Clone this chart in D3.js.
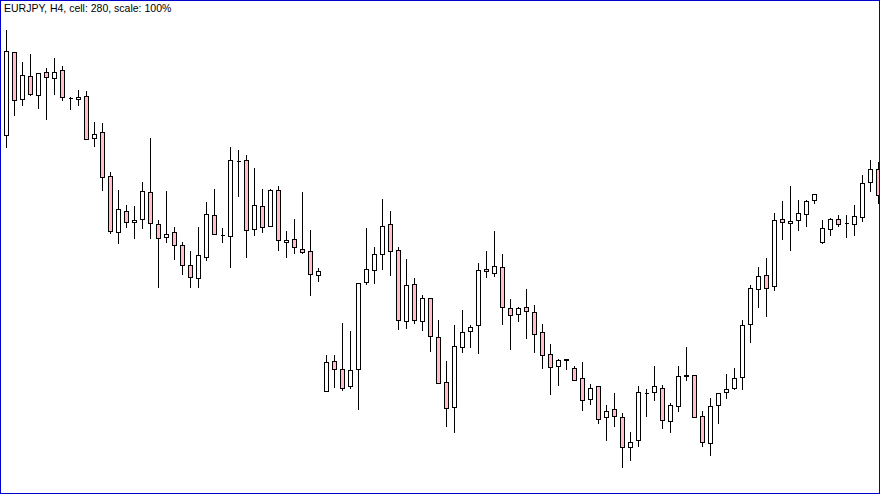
<!DOCTYPE html>
<html>
<head>
<meta charset="utf-8">
<script src="https://cdn.jsdelivr.net/npm/d3@7/dist/d3.min.js"></script>
<style>
html,body{margin:0;padding:0;background:#fff;}
svg{display:block;}
</style>
</head>
<body>
<svg id="chart" width="880" height="494"></svg>
<script>
const title = "EURJPY, H4, cell: 280, scale: 100%";
const opens  = [365,448,401,424,405,428,422,430,402,401,404,362,368,324,268,289,278,281,308,276,263,268,255,235,222,243,285,265,264,339,340,271,294,274,310,258,261,251,249,225,109,139,131,114,131,218,230,246,276,250,179,216,179,202,163,118,93,153,169,175,231,227,233,192,186,193,188,168,146,134,141,132,122,101,114,83,91,83,53,60,107,108,112,79,94,125,125,84,57,95,108,112,123,176,211,225,214,281,277,280,286,300,258,271,281,277,276,283,318,331];
const highs  = [470,448,438,446,427,432,442,434,403,410,409,378,377,328,310,295,294,318,362,280,309,273,258,249,273,298,311,272,353,350,345,332,311,311,314,269,281,308,270,232,145,145,177,169,217,272,253,301,289,253,241,222,205,202,180,139,175,190,175,237,249,269,246,201,193,211,195,176,156,141,141,134,138,116,114,95,107,87,68,114,111,134,115,97,134,153,125,89,102,107,126,132,180,215,233,242,287,299,314,300,300,306,280,282,285,285,295,325,340,338];
const lows   = [353,385,395,405,392,381,406,400,391,395,361,354,310,267,257,273,262,272,262,213,258,241,226,213,213,240,266,258,233,304,243,265,268,274,250,243,247,247,205,219,109,113,110,112,91,216,217,231,225,171,172,177,170,149,117,74,68,148,153,147,223,224,176,151,179,162,148,132,106,115,131,120,90,96,77,60,74,33,40,54,84,100,72,68,89,120,83,54,45,77,102,111,111,158,193,184,210,261,250,270,274,297,257,265,274,263,265,279,309,297];
const closes = [449,400,425,406,427,423,428,403,402,403,361,366,323,269,291,278,280,309,277,262,266,255,235,223,245,286,266,265,340,339,270,295,273,310,260,260,253,248,226,229,138,131,112,130,217,231,246,274,249,180,215,180,202,164,117,92,154,168,173,230,229,234,193,185,192,189,166,145,133,140,140,120,100,112,81,89,84,53,58,108,107,114,80,95,124,124,83,58,94,107,111,122,175,212,224,212,280,278,279,287,299,306,272,281,276,277,284,317,331,305];

const W = 880, H = 494;
const candles = opens.map((o, i) => ({i, o, h: highs[i], l: lows[i], c: closes[i]}));

const svg = d3.select("#chart");
svg.append("rect").attr("x",0).attr("y",0).attr("width",W).attr("height",H).attr("fill","#fff");

const x = d3.scalePoint().domain(d3.range(candles.length)).range([6.5, 878.5]);
const y = d3.scaleLinear().domain([6, 500]).range([494, 0]);
const py = v => Math.round(y(v));

const g = svg.append("g");

g.selectAll("line.wick").data(candles).join("line")
  .attr("class","wick")
  .attr("x1", d => x(d.i)).attr("x2", d => x(d.i))
  .attr("y1", d => py(d.h)).attr("y2", d => py(d.l) + 1)
  .attr("stroke","#000").attr("stroke-width",1)
  .attr("shape-rendering","crispEdges");

g.selectAll("path.body").data(candles).join("path")
  .attr("class","body")
  .attr("d", d => {
    const cx = x(d.i);
    const t = py(Math.max(d.o, d.c)) + 0.5;
    const b = py(Math.min(d.o, d.c)) + 0.5;
    return `M${cx-2},${t}H${cx+2}V${b}H${cx-2}Z`;
  })
  .attr("fill", d => d.c < d.o ? "#ffc0cb" : "#ffffff")
  .attr("stroke","#000").attr("stroke-width",1)
  .attr("shape-rendering","crispEdges");

svg.append("text")
  .attr("x", 4).attr("y", 12)
  .attr("font-family","'Liberation Sans', Arial, sans-serif")
  .attr("font-size","10.5px")
  .attr("fill","#000")
  .text(title);

svg.append("rect")
  .attr("x",0.5).attr("y",0.5).attr("width",W-1).attr("height",H-1)
  .attr("fill","none").attr("stroke","#0000cc").attr("stroke-width",1)
  .attr("shape-rendering","crispEdges");
</script>
</body>
</html>
